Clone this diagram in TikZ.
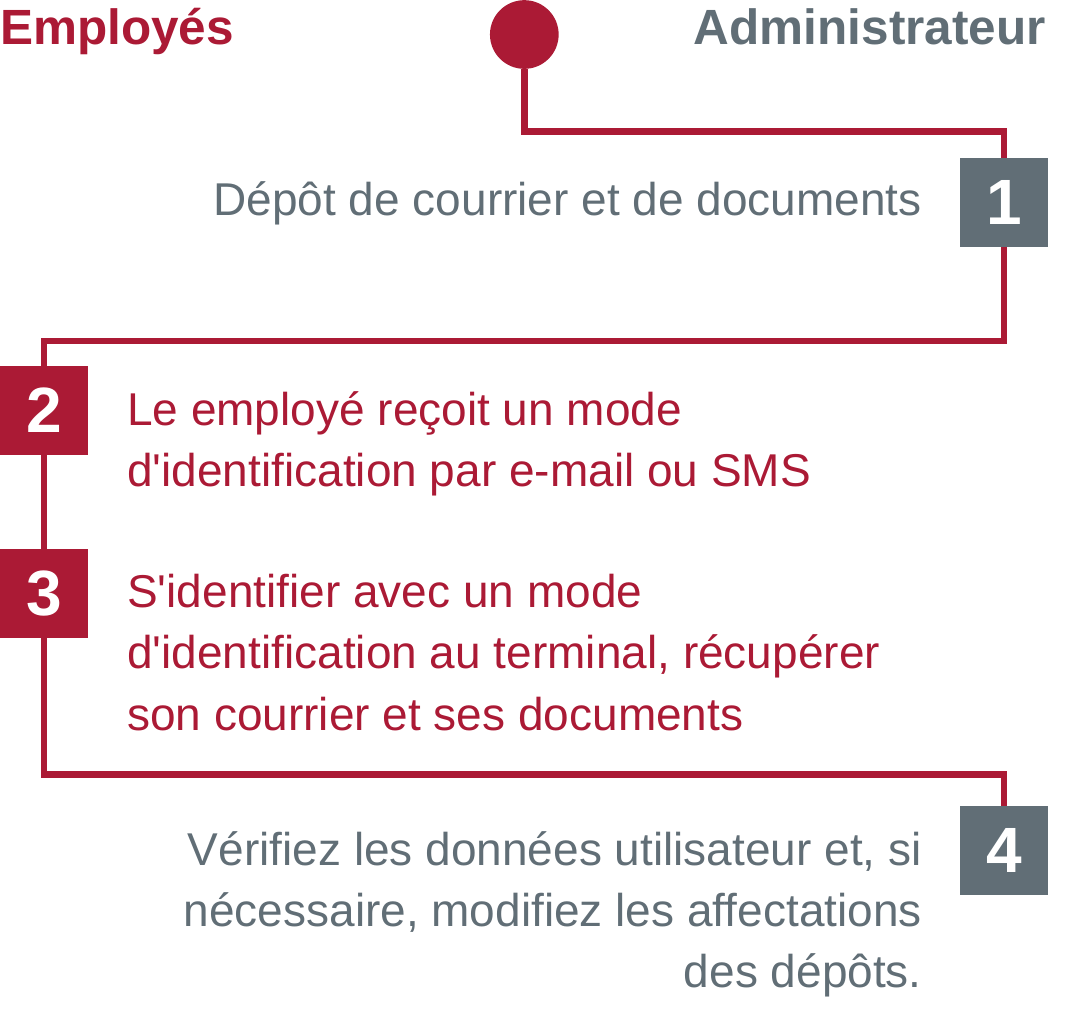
\documentclass[tikz,border=0pt]{standalone}
\usepackage{fontspec}
\setmainfont{Liberation Sans}[Ligatures=TeXOff]
\definecolor{brandred}{HTML}{AB1A35}
\definecolor{brandgray}{HTML}{616E76}
\tikzset{
  conn/.style={draw=brandred, line width=6.5pt},
  numbox/.style={rectangle, minimum width=88.5pt, minimum height=89pt, inner sep=0pt,
    text=white, font=\fontsize{64}{64}\selectfont\bfseries},
  redbox/.style={numbox, fill=brandred},
  graybox/.style={numbox, fill=brandgray},
  body/.style={inner sep=0pt, font=\fontsize{46}{61.2}\selectfont},
  title/.style={inner sep=0pt, font=\fontsize{49.5}{52}\selectfont\bfseries},
}
\begin{document}
\begin{tikzpicture}[x=1pt,y=-1pt]
\useasboundingbox (0,0) rectangle (1079,1026);
% titles
\node[title, text=brandred, anchor=base west] (temp) at (0,44) {Employés};
\node[title, text=brandgray, anchor=base east] (tadm) at (1046,44) {Administrateur};
% start dot
\node[circle, fill=brandred, minimum size=68.7pt, inner sep=0pt] (start) at (524.3,34.5) {};
% step boxes
\node[graybox] (b1) at (1004.2,202.5) {1};
\node[redbox]  (b2) at (44.2,410.5) {2};
\node[redbox]  (b3) at (44.2,593.5) {3};
\node[graybox] (b4) at (1004.2,850.5) {4};
% connectors
\draw[conn] (start.south) -- (start.south |- 0,131.5) -| (b1.north);
\draw[conn] (b1.south) -- (b1.south |- 0,341) -| (b2.north);
\draw[conn] (b2.south) -- (b3.north);
\draw[conn] (b3.south) -- (b3.south |- 0,774.5) -| (b4.north);
% texts
\node[body, text=brandgray, anchor=north east, align=right] (t1) at (922,215-42.8)
  {\strut Dépôt de courrier et de documents};
\node[body, text=brandred, anchor=north west, align=left] (t2) at (127,425-42.8)
  {\strut Le employé reçoit un mode\\d'identification par e-mail ou SMS};
\node[body, text=brandred, anchor=north west, align=left] (t3) at (127,607.5-42.8)
  {\strut S'identifier avec un mode\\d'identification au terminal, récupérer\\son courrier et ses documents};
\node[body, text=brandgray, anchor=north east, align=right] (t4) at (922,865-42.8)
  {\strut Vérifiez les données utilisateur et, si\\nécessaire, modifiez les affectations\\des dépôts.};
\end{tikzpicture}
\end{document}
